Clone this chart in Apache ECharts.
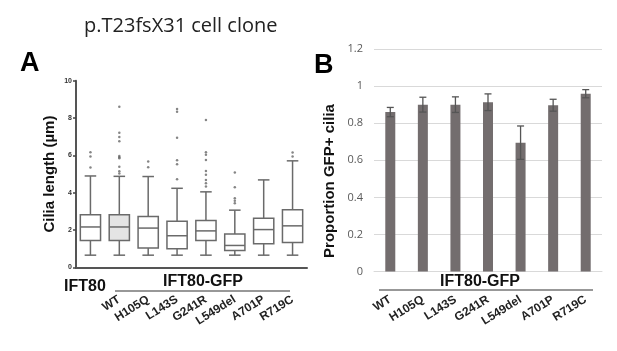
<!DOCTYPE html>
<html><head><meta charset="utf-8">
<script src="https://cdn.jsdelivr.net/npm/echarts@6/dist/echarts.min.js"></script>
<style>html,body{margin:0;padding:0;background:#fff}#c{width:617px;height:351px}</style>
</head><body><div id="c"></div>
<script>
// Panel A: cilia length box plots
const catsA = ['IFT80','WT','H105Q','L143S','G241R','L549del','A701P','R719C'];
const boxMin = [0.66,0.66,0.66,0.66,0.66,0.66,0.66,0.66];
const boxQ1  = [1.44,1.44,1.04,1.00,1.44,0.91,1.27,1.34];
const boxMed = [2.17,2.17,2.11,1.70,1.96,1.18,2.03,2.23];
const boxQ3  = [2.82,2.82,2.73,2.48,2.51,1.79,2.64,3.09];
const boxMax = [4.90,4.88,4.87,4.24,4.05,3.07,4.69,5.71];
const outliersA = [
  [6.17,5.94,5.35],
  [8.61,7.22,6.99,6.76,5.97,5.90,5.85,5.40,5.15,5.03],
  [5.67,5.37],
  [8.49,8.34,6.94,5.74,5.53,4.73],
  [7.90,6.17,6.03,5.76,5.17,4.96,4.69,4.51,4.33],
  [5.08,4.30,3.71,3.57,3.44],
  [],
  [6.15,5.94]
];
const ticksA = [0,2,4,6,8,10];
// Panel B: proportion GFP+ cilia
const catsB = ['WT','H105Q','L143S','G241R','L549del','A701P','R719C'];
const propB = [0.86,0.90,0.90,0.913,0.695,0.897,0.959];
const errB  = [0.025,0.04,0.042,0.045,0.09,0.032,0.022];

const boxData = catsA.map((c,i)=>[i,boxMin[i],boxQ1[i],boxMed[i],boxQ3[i],boxMax[i]]);
const outData = [];
outliersA.forEach((arr,i)=>arr.forEach(v=>outData.push([i,v])));
const errData = catsB.map((c,i)=>[i,propB[i]-errB[i],propB[i]+errB[i]]);

const chart = echarts.init(document.getElementById('c'));
const boldFont = 'Liberation Sans';
chart.setOption({
  backgroundColor:'#fff',
  animation:false,
  title:{text:'p.T23fsX31 cell clone',left:79,top:11,textStyle:{fontFamily:'Open Sans',fontWeight:'normal',fontSize:20,color:'#222'}},
  grid:[
    {left:76,top:80.7,width:231,height:186.8},
    {left:374,top:49,width:228,height:222.6}
  ],
  xAxis:[
    {type:'category',gridIndex:0,data:catsA,
     axisLine:{lineStyle:{color:'#555',width:2}},
     axisTick:{alignWithLabel:true,interval:0,length:4,lineStyle:{color:'#444',width:1.5}},
     axisLabel:{rotate:32,interval:0,margin:31,fontFamily:boldFont,fontWeight:'bold',fontSize:12,color:'#222',
       formatter:(v,i)=> i===0 ? '' : v}},
    {type:'category',gridIndex:1,data:catsB,
     axisLine:{lineStyle:{color:'#d9d9d9',width:1}},
     axisTick:{show:false},
     axisLabel:{rotate:32,interval:0,margin:27,fontFamily:boldFont,fontWeight:'bold',fontSize:12,color:'#222'}}
  ],
  yAxis:[
    {type:'value',gridIndex:0,min:ticksA[0],max:ticksA[ticksA.length-1],interval:2,
     name:'Cilia length (µm)',nameLocation:'middle',nameGap:19,
     nameTextStyle:{fontFamily:boldFont,fontWeight:'bold',fontSize:15,color:'#111'},
     axisLine:{show:true,lineStyle:{color:'#555',width:2}},
     axisTick:{show:true,length:3,lineStyle:{color:'#444',width:1.5}},
     axisLabel:{fontFamily:boldFont,fontWeight:'bold',fontSize:7,color:'#333',margin:4},
     splitLine:{show:false}},
    {type:'value',gridIndex:1,min:0,max:1.2,interval:0.2,
     axisLine:{show:false},axisTick:{show:false},
     axisLabel:{fontFamily:'Open Sans',fontSize:11,color:'#595959',margin:11,
       formatter:v=>String(Math.round(v*10)/10)},
     splitLine:{lineStyle:{color:'#d9d9d9',width:1}}}
  ],
  series:[
    {type:'custom',xAxisIndex:0,yAxisIndex:0,data:boxData,
     encode:{x:0,y:[1,2,3,4,5]},
     renderItem:(params,api)=>{
       const i=api.value(0);
       const band=api.size([1,0])[0];
       const bw=band*0.7, cw=band*0.4;
       const cx=api.coord([i,0])[0];
       const yMin=api.coord([i,api.value(1)])[1];
       const yQ1=api.coord([i,api.value(2)])[1];
       const yMed=api.coord([i,api.value(3)])[1];
       const yQ3=api.coord([i,api.value(4)])[1];
       const yMax=api.coord([i,api.value(5)])[1];
       const st={stroke:'#6a6a6a',lineWidth:1.5};
       return {type:'group',children:[
         {type:'line',shape:{x1:cx,y1:yMax,x2:cx,y2:yQ3},style:st},
         {type:'line',shape:{x1:cx,y1:yQ1,x2:cx,y2:yMin},style:st},
         {type:'line',shape:{x1:cx-cw/2,y1:yMax,x2:cx+cw/2,y2:yMax},style:st},
         {type:'line',shape:{x1:cx-cw/2,y1:yMin,x2:cx+cw/2,y2:yMin},style:st},
         {type:'rect',shape:{x:cx-bw/2,y:yQ3,width:bw,height:yQ1-yQ3},
          style:{fill:i===1?'#e4e4e4':'#fff',stroke:'#6a6a6a',lineWidth:1.5}},
         {type:'line',shape:{x1:cx-bw/2,y1:yMed,x2:cx+bw/2,y2:yMed},style:st}
       ]};
     }},
    {type:'scatter',xAxisIndex:0,yAxisIndex:0,data:outData,symbolSize:2.5,
     itemStyle:{color:'#666'}},
    {type:'bar',xAxisIndex:1,yAxisIndex:1,data:propB,barWidth:10,
     itemStyle:{color:'#736d6e'}},
    {type:'custom',xAxisIndex:1,yAxisIndex:1,data:errData,encode:{x:0,y:[1,2]},z:5,
     renderItem:(params,api)=>{
       const i=api.value(0);
       const cx=api.coord([i,0])[0];
       const lo=api.coord([i,api.value(1)])[1];
       const hi=api.coord([i,api.value(2)])[1];
       const st={stroke:'#555',lineWidth:1.3};
       return {type:'group',children:[
         {type:'line',shape:{x1:cx,y1:lo,x2:cx,y2:hi},style:st},
         {type:'line',shape:{x1:cx-3.5,y1:hi,x2:cx+3.5,y2:hi},style:st},
         {type:'line',shape:{x1:cx-3.5,y1:lo,x2:cx+3.5,y2:lo},style:st}
       ]};
     }}
  ],
  graphic:[
    {type:'text',left:20,top:50,style:{text:'A',fontFamily:boldFont,fontWeight:'bold',fontSize:27,fill:'#000'}},
    {type:'text',left:314,top:52,style:{text:'B',fontFamily:boldFont,fontWeight:'bold',fontSize:27,fill:'#000'}},
    {type:'text',x:330,y:181,rotation:Math.PI/2,style:{text:'Proportion GFP+ cilia',fontFamily:boldFont,fontWeight:'bold',fontSize:15,fill:'#111',align:'center',verticalAlign:'middle'}},
    {type:'text',x:85,y:287,style:{text:catsA[0],fontFamily:boldFont,fontWeight:'bold',fontSize:16,fill:'#111',align:'center',verticalAlign:'middle'}},
    {type:'text',x:203,y:282,style:{text:'IFT80-GFP',fontFamily:boldFont,fontWeight:'bold',fontSize:16,fill:'#111',align:'center',verticalAlign:'middle'}},
    {type:'line',shape:{x1:115,y1:291,x2:290,y2:291},style:{stroke:'#333',lineWidth:1.2}},
    {type:'text',x:480,y:282,style:{text:'IFT80-GFP',fontFamily:boldFont,fontWeight:'bold',fontSize:16,fill:'#111',align:'center',verticalAlign:'middle'}},
    {type:'line',shape:{x1:379,y1:290,x2:593,y2:290},style:{stroke:'#333',lineWidth:1.2}}
  ]
});
</script></body></html>
